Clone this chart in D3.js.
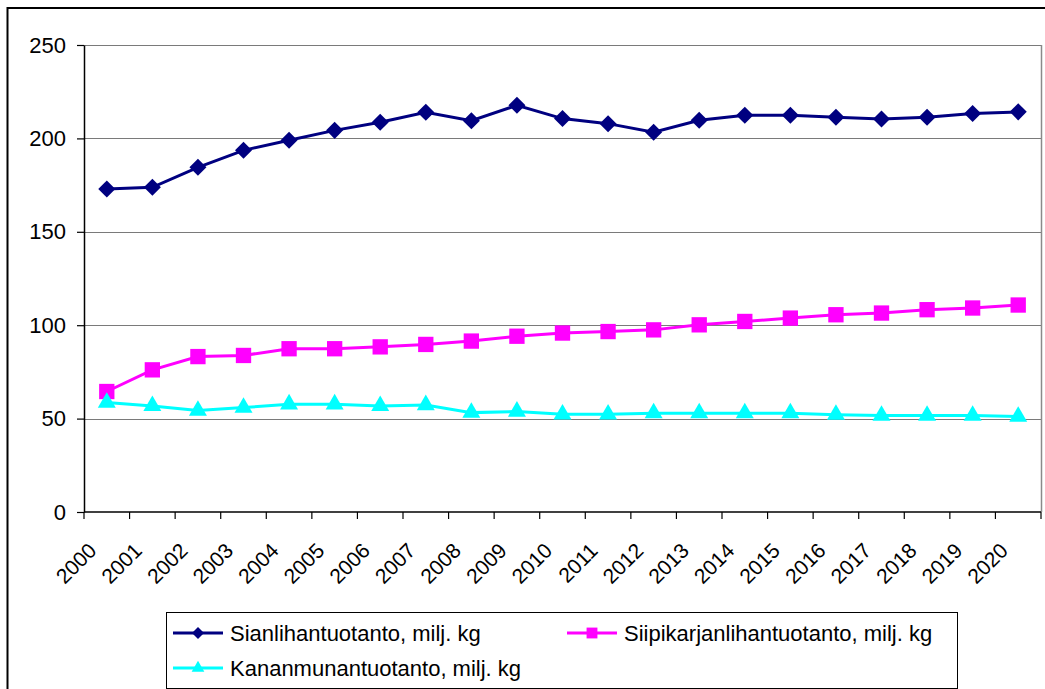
<!DOCTYPE html>
<html lang="fi">

<head>
    <meta charset="UTF-8">
    <title>Tuotanto 2000-2020</title>
    <style>
        html, body {
            margin: 0;
            padding: 0;
            background: #fff;
        }

        svg {
            display: block;
            font-family: "Liberation Sans", Arial, sans-serif;
        }
    </style>
</head>

<body>
    <div class="box"></div>
    <script src="https://d3js.org/d3.v7.min.js"></script>

    <script>
        // data
        const years = ['2000', '2001', '2002', '2003', '2004', '2005', '2006', '2007', '2008', '2009', '2010',
            '2011', '2012', '2013', '2014', '2015', '2016', '2017', '2018', '2019', '2020'];
        const sianliha = [172.9, 173.8, 184.5, 193.6, 199, 204.3, 208.6, 214, 209.5, 217.7, 210.6,
            207.9, 203.3, 209.7, 212.4, 212.4, 211.3, 210.4, 211.3, 213.3, 214.2];
        const siipikarja = [64.5, 76.1, 83.2, 83.8, 87.4, 87.4, 88.4, 89.7, 91.5, 94.1, 95.8,
            96.6, 97.5, 100.2, 102, 103.8, 105.6, 106.5, 108.3, 109.2, 110.8];
        const kananmuna = [58.6, 56.8, 54.3, 55.9, 57.7, 57.7, 56.8, 57.3, 53.2, 53.8, 52.3,
            52.3, 52.9, 52.9, 52.9, 52.9, 52.1, 51.6, 51.6, 51.6, 51.1];
        const yTicks = [0, 50, 100, 150, 200, 250];

        // diamond = square turned 45 degrees (same width and height)
        const series = [
            { name: 'Sianlihantuotanto, milj. kg', values: sianliha, color: '#000080', symbol: d3.symbolSquare, size: 145, rot: 45 },
            { name: 'Siipikarjanlihantuotanto, milj. kg', values: siipikarja, color: '#FF00FF', symbol: d3.symbolSquare, size: 235, rot: 0 },
            { name: 'Kananmunantuotanto, milj. kg', values: kananmuna, color: '#00FFFF', symbol: d3.symbolTriangle, size: 140, rot: 0 }
        ];

        const width = 1045;
        const height = 689;
        const margin = { top: 45, right: 4, bottom: 177, left: 84 };

        const svg = d3.select('.box').append('svg')
            .attr('width', width)
            .attr('height', height);

        // outer chart border
        svg.append('rect')
            .attr('x', 7.5).attr('y', 8)
            .attr('width', 1060).attr('height', 700)
            .attr('fill', 'none')
            .attr('stroke', '#000')
            .attr('stroke-width', 2);

        const x = d3.scaleBand()
            .domain(years)
            .range([margin.left, width - margin.right])
            .padding(0);

        const y = d3.scaleLinear()
            .domain([0, 250])
            .range([height - margin.bottom, margin.top]);

        const plot = svg.append('g');

        // gridlines
        plot.append('g')
            .selectAll('line')
            .data(yTicks.filter(d => d > 0))
            .join('line')
            .attr('x1', margin.left)
            .attr('x2', width - margin.right)
            .attr('y1', d => Math.round(y(d)) + 0.5)
            .attr('y2', d => Math.round(y(d)) + 0.5)
            .attr('stroke', '#7a7a7a')
            .attr('stroke-width', 1);

        // right edge of plot area
        plot.append('line')
            .attr('x1', width - margin.right + 0.5)
            .attr('x2', width - margin.right + 0.5)
            .attr('y1', y(250))
            .attr('y2', y(0))
            .attr('stroke', '#8a8a8a')
            .attr('stroke-width', 1.5);

        // y axis
        const yAxis = plot.append('g')
            .attr('transform', `translate(${margin.left},0)`)
            .call(d3.axisLeft(y).tickValues(yTicks).tickSize(7).tickSizeOuter(0).tickPadding(11));
        yAxis.select('.domain').attr('stroke', '#000').attr('stroke-width', 1.5);
        yAxis.selectAll('.tick line').attr('stroke', '#000').attr('stroke-width', 1.2);
        yAxis.selectAll('.tick text')
            .attr('font-size', 22)
            .attr('font-family', '"Liberation Sans", Arial, sans-serif')
            .attr('fill', '#000');

        // x axis (ticks between categories)
        const xAxis = plot.append('g')
            .attr('transform', `translate(0,${y(0)})`);
        xAxis.append('line')
            .attr('x1', margin.left)
            .attr('x2', width - margin.right)
            .attr('stroke', '#000')
            .attr('stroke-width', 1.5);
        xAxis.selectAll('.tick-mark')
            .data(years.concat(['end']))
            .join('line')
            .attr('class', 'tick-mark')
            .attr('x1', d => d === 'end' ? x.range()[1] : x(d))
            .attr('x2', d => d === 'end' ? x.range()[1] : x(d))
            .attr('y1', 0)
            .attr('y2', 7)
            .attr('stroke', '#000')
            .attr('stroke-width', 1.2);
        xAxis.selectAll('.tick-label')
            .data(years)
            .join('text')
            .attr('class', 'tick-label')
            .attr('transform', d => `translate(${x(d) + x.bandwidth() / 2 - 9},40) rotate(-45)`)
            .attr('text-anchor', 'end')
            .attr('font-size', 21)
            .attr('fill', '#000')
            .text(d => d);

        // lines and markers
        const line = d3.line()
            .x((d, i) => x(years[i]) + x.bandwidth() / 2)
            .y(d => y(d));

        series.forEach(s => {
            const g = plot.append('g');
            g.append('path')
                .datum(s.values)
                .attr('d', line)
                .attr('fill', 'none')
                .attr('stroke', s.color)
                .attr('stroke-width', 3);
            g.selectAll('path.marker')
                .data(s.values)
                .join('path')
                .attr('class', 'marker')
                .attr('d', d3.symbol().type(s.symbol).size(s.size))
                .attr('transform', (d, i) => `translate(${x(years[i]) + x.bandwidth() / 2},${y(d)}) rotate(${s.rot})`)
                .attr('fill', s.color);
        });

        // legend
        const legend = svg.append('g');
        legend.append('rect')
            .attr('x', 166.5).attr('y', 612.5)
            .attr('width', 791).attr('height', 76)
            .attr('fill', '#fff')
            .attr('stroke', '#000')
            .attr('stroke-width', 1);

        const legendPos = [[173, 633], [567, 633], [173, 668]];
        series.forEach((s, i) => {
            const [lx, ly] = legendPos[i];
            const item = legend.append('g').attr('transform', `translate(${lx},${ly})`);
            item.append('line')
                .attr('x1', 0).attr('x2', 50)
                .attr('stroke', s.color)
                .attr('stroke-width', 3);
            item.append('path')
                .attr('d', d3.symbol().type(s.symbol).size(s.size * 0.5))
                .attr('transform', `translate(25,0) rotate(${s.rot})`)
                .attr('fill', s.color);
            item.append('text')
                .attr('x', 57)
                .attr('y', 8)
                .attr('font-size', 22)
                .attr('fill', '#000')
                .text(s.name);
        });
    </script>
</body>

</html>
